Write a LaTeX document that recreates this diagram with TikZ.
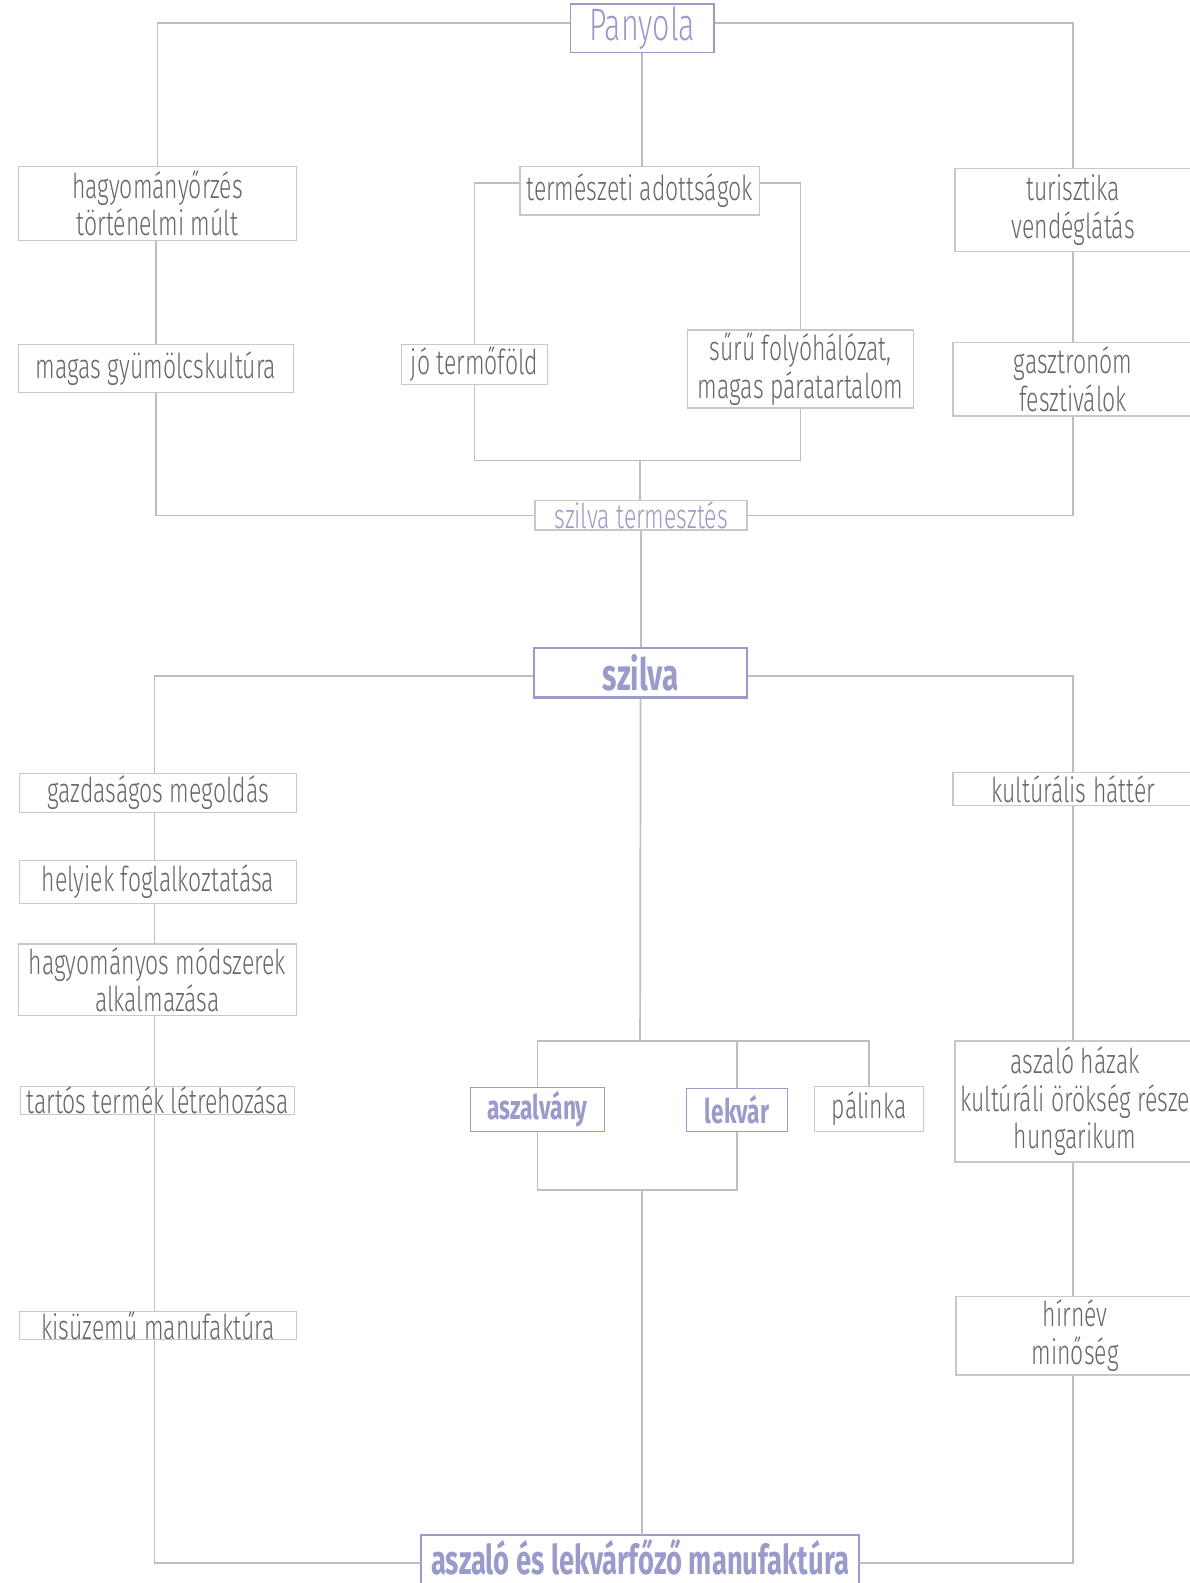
\documentclass[tikz,border=0pt]{standalone}
\usepackage{fontspec}
\setmainfont{Fira Sans}[UprightFont=* Light, BoldFont=* Bold, FakeStretch=0.67]
\definecolor{lgrey}{HTML}{BEBEBE}
\definecolor{bgrey}{HTML}{C8C8C8}
\definecolor{tgrey}{HTML}{666666}
\definecolor{purp}{HTML}{9A9ACB}
\begin{document}
\begin{tikzpicture}[x=1pt,y=-1pt,
  conn/.style={draw=lgrey, line width=1.7pt},
  gbox/.style={draw=bgrey, line width=1.3pt, fill=white, text=tgrey, align=center, inner sep=0pt, font=\fontsize{34}{37}\selectfont},
  pbox/.style={draw=purp, line width=1.5pt, fill=white, text=purp, align=center, inner sep=0pt},
]
\useasboundingbox (0,0) rectangle (1178,1568);
% nodes
\node[pbox, line width=1.8pt, minimum width=142, minimum height=48, font=\fontsize{45}{47}\selectfont] (pan) at (636,28) {Panyola};
\node[gbox, minimum width=276, minimum height=73] (hagy) at (156,201.5) {hagyományőrzés\\történelmi múlt};
\node[gbox, minimum width=273, minimum height=48] (magas) at (154.5,365) {magas gyümölcskultúra};
\node[gbox, minimum width=237, minimum height=48] (term) at (633.5,189) {természeti adottságok};
\node[gbox, minimum width=144, minimum height=40] (jo) at (470,361) {jó termőföld};
\node[gbox, minimum width=224, minimum height=77] (suru) at (793,365.5) {sűrű folyóhálózat,\\magas páratartalom};
\node[gbox, minimum width=234, minimum height=82] (turi) at (1063,208) {turisztika\\vendéglátás};
\node[gbox, minimum width=238, minimum height=73] (gasz) at (1063,375.5) {gasztronóm\\fesztiválok};
\node[gbox, text=purp, minimum width=210, minimum height=29] (szt) at (635,510.5) {szilva termesztés};
\node[pbox, line width=2.6pt, minimum width=211, minimum height=49, font=\fontsize{44}{46}\selectfont\bfseries] (szilva) at (634.5,666.5) {szilva};
\node[gbox, minimum width=275, minimum height=39] (gazd) at (156.5,785.5) {gazdaságos megoldás};
\node[gbox, minimum width=275, minimum height=43] (hely) at (156.5,873.5) {helyiek foglalkoztatása};
\node[gbox, minimum width=276, minimum height=71] (hagyo) at (156,970.5) {hagyományos módszerek\\alkalmazása};
\node[gbox, minimum width=272, minimum height=28] (tartos) at (156,1090) {tartós termék létrehozása};
\node[gbox, minimum width=275, minimum height=28] (kis) at (156.5,1313) {kisüzemű manufaktúra};
\node[gbox, minimum width=238, minimum height=33] (kult) at (1063,781.5) {kultúrális háttér};
\node[gbox, minimum width=238, minimum height=120] (aszh) at (1065,1091) {aszaló házak\\kultúráli örökség része\\hungarikum};
\node[gbox, minimum width=236, minimum height=78] (hir) at (1065,1323) {hírnév\\minőség};
\node[pbox, minimum width=133, minimum height=44, font=\fontsize{33.5}{35}\selectfont\bfseries] (aszv) at (532.5,1099) {aszalvány};
\node[pbox, minimum width=100, minimum height=43, font=\fontsize{33.5}{35}\selectfont\bfseries] (lek) at (730,1099.5) {lekvár};
\node[gbox, minimum width=108, minimum height=45] (pal) at (861,1098.5) {pálinka};
\node[pbox, draw=none, minimum width=432, minimum height=47, font=\fontsize{40.5}{42}\selectfont\bfseries] (bot) at (634,1544.5) {\raisebox{4pt}{aszaló és lekvárfőző manufaktúra}};
\draw[purp, line width=1.5pt] (bot.south west) -- (bot.north west) -- (bot.north east) -- (bot.south east);
% helper coordinates
\coordinate (m1) at (634,456);
\coordinate (m2) at (634,1031);
\coordinate (m3) at (636,1179);
% connectors
\draw[conn] ([yshift=5pt]pan.west) -| (hagy.north);
\draw[conn] ([yshift=5pt]pan.east) -| (turi.north);
\draw[conn] (pan.south) -- (pan.south |- term.north);
\draw[conn] (magas.north |- hagy.south) -- (magas.north);
\draw[conn] (magas.south) |- (szt.west);
\draw[conn] ([yshift=8pt]term.west) -| (jo.north);
\draw[conn] ([yshift=8pt]term.east) -| (suru.north);
\draw[conn] (jo.south) |- (m1) -| (suru.south);
\draw[conn] (m1) -- (m1 |- szt.north);
\draw[conn] (turi.south) -- (gasz.north);
\draw[conn] (gasz.south) |- (szt.east);
\draw[conn] (szt.south) -- (szt.south |- szilva.north);
\draw[conn] ([yshift=-3pt]szilva.west) -| (153,766);
\draw[conn] ([yshift=-3pt]szilva.east) -| (kult.north);
\draw[conn] (153,805) -- (153,852);
\draw[conn] (153,895) -- (153,935);
\draw[conn] (153,1006) -- (153,1076);
\draw[conn] (153,1104) -- (153,1299);
\draw[conn] (153,1327) |- ([yshift=-3.5pt]bot.west);
\draw[conn] (kult.south) -- (kult.south |- aszh.north);
\draw[conn] (kult.south |- aszh.south) -- (kult.south |- hir.north);
\draw[conn] (kult.south |- hir.south) |- ([yshift=-3.5pt]bot.east);
\draw[conn] (szilva.south) -- (m2);
\draw[conn] (aszv.north) |- (pal.north |- m2) -- (pal.north);
\draw[conn] (lek.north) -- (lek.north |- m2);
\draw[conn] (aszv.south) |- (lek.south |- m3) -- (lek.south);
\draw[conn] (m3) -- (m3 |- bot.north);
\end{tikzpicture}
\end{document}
